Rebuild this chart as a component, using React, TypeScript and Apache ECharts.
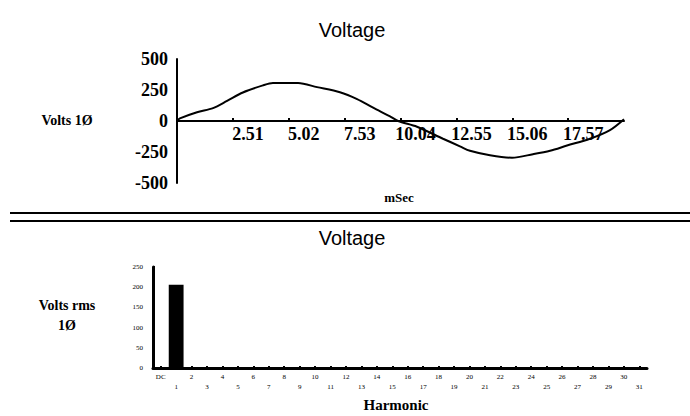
import React, { useEffect, useRef } from "react";
import * as echarts from "echarts";

// ---- Top chart: voltage waveform (mSec vs Volts) ----
const timeMs = [0, 0.13, 0.9, 1.62, 2.25, 2.96, 3.86, 4.31, 5.44, 6.29, 7.32, 8.09, 8.81, 9.57, 9.93, 10.78, 11.95, 12.71, 13.16, 14.06, 15.05, 15.99, 16.76, 17.52, 18.55, 19.45, 20.08];
const volts = [0, 21, 71, 104, 162, 230, 287, 306, 306, 273, 232, 177, 107, 37, 0, -46, -143, -204, -240, -276, -296, -268, -240, -198, -143, -73, 15];
const timeStep = 2.51;
const timeMax = 20.08;
const voltTicks = [-500, -250, 0, 250, 500];

// ---- Bottom chart: harmonic spectrum (Volts rms) ----
const harmonics = ["DC", "1", "2", "3", "4", "5", "6", "7", "8", "9", "10", "11", "12", "13", "14", "15", "16", "17", "18", "19", "20", "21", "22", "23", "24", "25", "26", "27", "28", "29", "30", "31"];
const harmonicRms = [0, 206, 0, 0, 0, 0, 0, 0, 0, 0, 0, 0, 0, 0, 0, 0, 0, 0, 0, 0, 0, 0, 0, 0, 0, 0, 0, 0, 0, 0, 0, 0];
const rmsTicks = [0, 50, 100, 150, 200, 250];

const SERIF = "'Liberation Serif', 'DejaVu Serif', serif";
const SANS = "'Liberation Sans', Arial, sans-serif";

export default function App() {
  const ref = useRef<HTMLDivElement>(null);

  useEffect(() => {
    if (!ref.current) return;
    const chart = echarts.init(ref.current, undefined, { renderer: "svg" });
    const pairs = timeMs.map((t, i) => [t, volts[i]]);

    chart.setOption({
      animation: false,
      backgroundColor: "#ffffff",
      grid: [
        { left: 177, top: 59, width: 447, height: 124 },
        { left: 153, top: 267, width: 494, height: 101 },
      ],
      xAxis: [
        {
          type: "value",
          gridIndex: 0,
          min: 0,
          max: timeMax,
          interval: timeStep,
          offset: -62,
          axisLine: { onZero: false, lineStyle: { color: "#000", width: 2 } },
          axisTick: { show: true, inside: true, length: 3, lineStyle: { color: "#000", width: 2 } },
          splitLine: { show: false },
          axisLabel: {
            showMinLabel: false,
            showMaxLabel: false,
            formatter: (v: number) => v.toFixed(2),
            fontFamily: SERIF,
            fontWeight: "bold",
            fontSize: 18,
            color: "#000",
            margin: 4,
            padding: [0, 0, 0, 30],
          },
        },
        {
          type: "category",
          gridIndex: 1,
          data: harmonics,
          axisLine: { lineStyle: { color: "#000", width: 3 } },
          axisTick: { show: true, inside: true, length: 2, alignWithLabel: true, lineStyle: { color: "#000", width: 2 } },
          axisLabel: {
            interval: 0,
            formatter: (v: string, i: number) => (i % 2 === 0 ? v : "\n" + v),
            fontFamily: SERIF,
            fontSize: 7,
            lineHeight: 10,
            color: "#000",
            margin: 4,
          },
        },
      ],
      yAxis: [
        {
          type: "value",
          gridIndex: 0,
          min: voltTicks[0],
          max: voltTicks[voltTicks.length - 1],
          interval: 250,
          axisLine: { show: true, lineStyle: { color: "#000", width: 2 } },
          axisTick: { show: false },
          splitLine: { show: false },
          axisLabel: {
            fontFamily: SERIF,
            fontWeight: "bold",
            fontSize: 18,
            color: "#000",
            margin: 9,
          },
        },
        {
          type: "value",
          gridIndex: 1,
          min: rmsTicks[0],
          max: rmsTicks[rmsTicks.length - 1],
          interval: 50,
          axisLine: { show: true, lineStyle: { color: "#000", width: 3 } },
          axisTick: { show: true, inside: true, length: 2, lineStyle: { color: "#000", width: 2 } },
          splitLine: { show: false },
          axisLabel: {
            fontFamily: SERIF,
            fontSize: 7,
            color: "#000",
            margin: 10,
          },
        },
      ],
      series: [
        {
          type: "line",
          xAxisIndex: 0,
          yAxisIndex: 0,
          data: pairs,
          showSymbol: false,
          smooth: 0.3,
          lineStyle: { color: "#000", width: 2 },
        },
        {
          type: "bar",
          xAxisIndex: 1,
          yAxisIndex: 1,
          data: harmonicRms,
          barWidth: "96%",
          itemStyle: { color: "#000" },
        },
      ],
      graphic: [
        { type: "text", x: 352, y: 30, style: { text: "Voltage", font: `20px ${SANS}`, fill: "#000", align: "center", verticalAlign: "middle" } },
        { type: "text", x: 67, y: 120, style: { text: "Volts 1Ø", font: `bold 14px ${SERIF}`, fill: "#000", align: "center", verticalAlign: "middle" } },
        { type: "text", x: 399, y: 197, style: { text: "mSec", font: `bold 13px ${SERIF}`, fill: "#000", align: "center", verticalAlign: "middle" } },
        { type: "line", shape: { x1: 10, y1: 213, x2: 690, y2: 213 }, style: { stroke: "#000", lineWidth: 2 } },
        { type: "line", shape: { x1: 10, y1: 221, x2: 690, y2: 221 }, style: { stroke: "#000", lineWidth: 2 } },
        { type: "text", x: 352, y: 238, style: { text: "Voltage", font: `20px ${SANS}`, fill: "#000", align: "center", verticalAlign: "middle" } },
        { type: "text", x: 67, y: 315, style: { text: "Volts rms\n1Ø", font: `bold 14px ${SERIF}`, lineHeight: 20, fill: "#000", align: "center", verticalAlign: "middle" } },
        { type: "text", x: 396, y: 405, style: { text: "Harmonic", font: `bold 15px ${SERIF}`, fill: "#000", align: "center", verticalAlign: "middle" } },
      ],
    });

    return () => chart.dispose();
  }, []);

  return (
    <div
      ref={ref}
      style={{ position: "fixed", left: 0, top: 0, width: 690, height: 416, background: "#fff" }}
    />
  );
}
